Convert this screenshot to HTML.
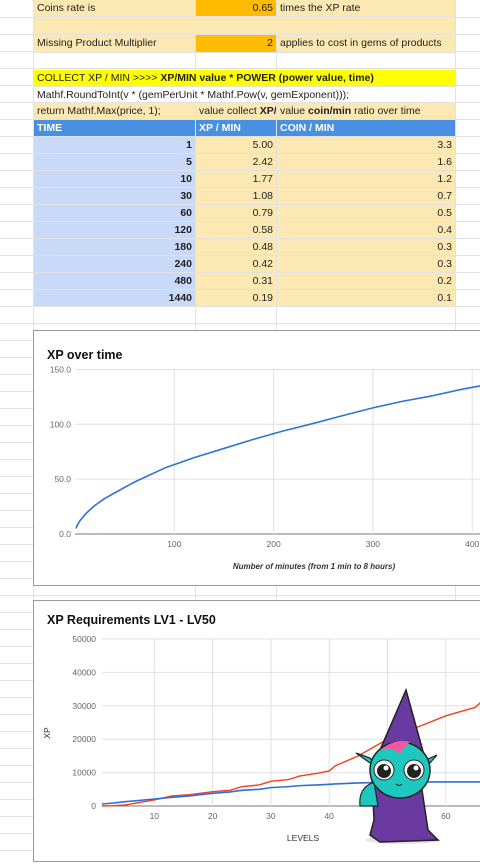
<!DOCTYPE html>
<html><head><meta charset="utf-8">
<style>
body{margin:0;width:480px;height:854px;overflow:hidden;background:#fff;font-family:"Liberation Sans",Arial,sans-serif;position:relative}
.c{position:absolute;box-sizing:border-box;font-size:10.5px;line-height:17px;padding:0 3px;white-space:nowrap;overflow:hidden;border-right:1px solid #e2e2e2;border-bottom:1px solid #e2e2e2;color:#222}
.r{text-align:right}
.grid{position:absolute;left:0;top:0;width:480px;height:854px}
.chart{position:absolute;background:#fff;border:1px solid #9a9a9a}
</style></head><body>
<svg class="grid">
<g id="gl" stroke="#e2e2e2" stroke-width="1"></g>
</svg>
<div id="sheet"></div>

<div class="chart" style="left:33px;top:330px;width:460px;height:254px">
<svg width="460" height="254" id="c1" style="font-family:'Liberation Sans',Arial,sans-serif"></svg>
</div>
<div class="chart" style="left:33px;top:600px;width:460px;height:260px">
<svg width="460" height="260" id="c2" style="font-family:'Liberation Sans',Arial,sans-serif"></svg>
</div>

<svg style="position:absolute;left:340px;top:670px" width="110" height="184">
<ellipse cx="63" cy="170" rx="38" ry="4" fill="#e5e5e5"/>
<path d="M66 20 L40 80 L84 85 Z" fill="#6b3aa0" stroke="#222" stroke-width="1.5"/>
<path d="M34 150 L32 110 Q38 95 60 95 Q80 100 82 120 L88 160 L98 170 L40 172 L30 165 Z" fill="#6b3aa0" stroke="#222" stroke-width="1.5"/>
<path d="M20 136 Q18 118 34 112 L38 136 Z" fill="#1ec8bf" stroke="#222" stroke-width="1.2"/>
<path d="M16 83 L30 88 L40 100 Z" fill="#1ec8bf" stroke="#222" stroke-width="1.2"/>
<path d="M97 85 L86 90 L82 102 Z" fill="#1ec8bf" stroke="#222" stroke-width="1.2"/>
<ellipse cx="60" cy="100" rx="30" ry="28" fill="#1ec8bf" stroke="#222" stroke-width="1.5"/>
<path d="M40 80 Q55 68 70 72 Q62 78 60 84 Q52 76 40 80Z" fill="#f457a2"/>
<circle cx="44" cy="100" r="10" fill="#fff" stroke="#222"/><circle cx="44" cy="101" r="7" fill="#222"/><circle cx="46" cy="98" r="2.5" fill="#fff"/>
<circle cx="74" cy="100" r="10" fill="#fff" stroke="#222"/><circle cx="74" cy="101" r="7" fill="#222"/><circle cx="76" cy="98" r="2.5" fill="#fff"/>
<path d="M56 114 Q59 117 62 114" stroke="#222" fill="none"/>
</svg>

<script>
// ---- sheet ----
const gl=document.getElementById('gl');
for(let y=17;y<854;y+=17){const l=document.createElementNS('http://www.w3.org/2000/svg','line');l.setAttribute('x1',0);l.setAttribute('x2',480);l.setAttribute('y1',y+.5);l.setAttribute('y2',y+.5);gl.appendChild(l);}
[33,195,276,455].forEach(x=>{const l=document.createElementNS('http://www.w3.org/2000/svg','line');l.setAttribute('x1',x+.5);l.setAttribute('x2',x+.5);l.setAttribute('y1',0);l.setAttribute('y2',854);gl.appendChild(l);});
const sh=document.getElementById('sheet');
function cell(x,y,w,h,bg,html,cls,name,style){const d=document.createElement('div');d.className='c '+(cls||'');d.style.cssText=`left:${x}px;top:${y}px;width:${w}px;height:${h}px;background:${bg};${style||''}`;d.innerHTML=html;


sh.appendChild(d);}
const BE='#fce8b2',OR='#ffbb00',BL='#c9daf8',HB='#4a90e2';
cell(34,0,162,17,BE,'Coins rate is','','coins-rate-label');
cell(196,0,81,17,OR,'0.65','r','coins-rate-value');
cell(277,0,179,17,BE,'times the XP rate','','coins-rate-note');
cell(34,17,422,18,BE,'','','empty-row');
cell(34,35,162,18,BE,'Missing Product Multiplier','','multiplier-label');
cell(196,35,81,18,OR,'2','r','multiplier-value');
cell(277,35,179,18,BE,'applies to cost in gems of products','','multiplier-note');
cell(34,70,422,17,'#ffff00','COLLECT XP / MIN &gt;&gt;&gt;&gt; <b>XP/MIN value * POWER (power value, time)</b>','','formula-header');
cell(34,87,422,16,'#fff','Mathf.RoundToInt(v * (gemPerUnit * Mathf.Pow(v, gemExponent)));','','formula-line');
cell(34,103,162,17,BE,'return Mathf.Max(price, 1);','','formula-return');
cell(196,103,81,17,BE,'value collect <b>XP/</b>','','xp-desc');
cell(277,103,179,17,BE,'value <b>coin/min</b> ratio over time','','coin-desc');
cell(34,120,162,17,HB,'<b style="color:#fff">TIME</b>','','header-time');
cell(196,120,81,17,HB,'<b style="color:#fff">XP / MIN</b>','','header-xp');
cell(277,120,179,17,HB,'<b style="color:#fff">COIN / MIN</b>','','header-coin');
const times=[1,5,10,30,60,120,180,240,480,1440];
const xpm=['5.00','2.42','1.77','1.08','0.79','0.58','0.48','0.42','0.31','0.19'];
const cpm=['3.3','1.6','1.2','0.7','0.5','0.4','0.3','0.3','0.2','0.1'];
times.forEach((t,i)=>{const y=137+i*17;
cell(34,y,162,17,BL,'<b>'+t+'</b>','r','time-cell');
cell(196,y,81,17,BE,xpm[i],'r','xp-cell');
cell(277,y,179,17,BE,cpm[i],'r','coin-cell');});

const NS='http://www.w3.org/2000/svg';
function el(svg,tag,a,txt){const e=document.createElementNS(NS,tag);for(const k in a)e.setAttribute(k,a[k]);if(txt!=null)e.textContent=txt;svg.appendChild(e);return e;}

// ---- chart 1 data ----
const c1Minutes=[1,2,3,5,10,15,20,30,45,60,90,120,150,180,210,240,270,300,330,360,390,420,450,480];
const c1Xp=[5,7.3,9.1,12.1,17.7,22,26,32.4,40,47.4,60,69.6,78,86.4,94,100.8,108,115,121,126,132,137,142,148];
const c1YTicks=[0,50,100,150];
const c1XTicks=[100,200,300,400];
(function(){
const s=document.getElementById('c1');
const X=v=>41+v*0.993, Y=v=>203-v*1.097;
el(s,'text',{x:13,y:28,'font-size':'12.5','font-weight':'bold',fill:'#111'},'XP over time');
c1YTicks.forEach(t=>{el(s,'line',{x1:41,x2:460,y1:Y(t),y2:Y(t),stroke:t?'#e0e0e0':'#777','stroke-width':1});
el(s,'text',{x:37,y:Y(t)+3,'font-size':'8.5',fill:'#666','text-anchor':'end'},t.toFixed(1));});
c1XTicks.forEach(t=>{el(s,'line',{x1:X(t),x2:X(t),y1:Y(150),y2:Y(0),stroke:'#e0e0e0'});
el(s,'text',{x:X(t),y:Y(0)+13,'font-size':'8.5',fill:'#666','text-anchor':'middle'},t);});
const ln=el(s,'polyline',{points:c1Minutes.map((m,i)=>X(m)+','+Y(c1Xp[i])).join(' '),fill:'none',stroke:'#2e74d6','stroke-width':1.6,'stroke-linejoin':'round'});

el(s,'text',{x:280,y:238,'font-size':'8','font-style':'italic','font-weight':'bold',fill:'#333','text-anchor':'middle'},'Number of minutes (from 1 min to 8 hours)');
})();

// ---- chart 2 data ----
const c2Levels=[1,3,5,7,10,13,16,20,23,25,28,30,33,35,38,40,41,45,50,55,60,65,66,68,70];
const c2Red=[0,100,300,900,1800,3000,3400,4300,4700,5800,6300,7400,7900,9000,9800,10500,12000,15000,20000,23500,27000,29500,31000,34000,38000];
const c2Blue=[600,900,1300,1600,2100,2600,3000,3800,4200,4700,5000,5500,5800,6100,6300,6500,6600,6900,7100,7200,7200,7200,7200,7200,7200];
const c2YTicks=[0,10000,20000,30000,40000,50000];
const c2XTicks=[10,20,30,40,50,60];
(function(){
const s=document.getElementById('c2');
const X=v=>62+v*5.83, Y=v=>205-v*0.00334;
el(s,'text',{x:13,y:23,'font-size':'12.5','font-weight':'bold',fill:'#111'},'XP Requirements LV1 - LV50');
c2YTicks.forEach(t=>{el(s,'line',{x1:68,x2:460,y1:Y(t),y2:Y(t),stroke:t?'#e0e0e0':'#777'});
el(s,'text',{x:62,y:Y(t)+3,'font-size':'8.5',fill:'#666','text-anchor':'end'},t);});
c2XTicks.forEach(t=>{el(s,'line',{x1:X(t),x2:X(t),y1:Y(50000),y2:Y(0),stroke:'#e0e0e0'});
el(s,'text',{x:X(t),y:Y(0)+13,'font-size':'8.5',fill:'#666','text-anchor':'middle'},t);});
el(s,'polyline',{points:c2Levels.map((m,i)=>X(m)+','+Y(c2Red[i])).join(' '),fill:'none',stroke:'#f4401c','stroke-width':1.4});
el(s,'polyline',{points:c2Levels.map((m,i)=>X(m)+','+Y(c2Blue[i])).join(' '),fill:'none',stroke:'#2e6fd6','stroke-width':1.6});
el(s,'text',{x:16,y:132,'font-size':'8.5',fill:'#333','text-anchor':'middle',transform:'rotate(-90 16 132)'},'XP');
el(s,'text',{x:269,y:240,'font-size':'8.5',fill:'#333','text-anchor':'middle'},'LEVELS');
})();
</script>
</body></html>
